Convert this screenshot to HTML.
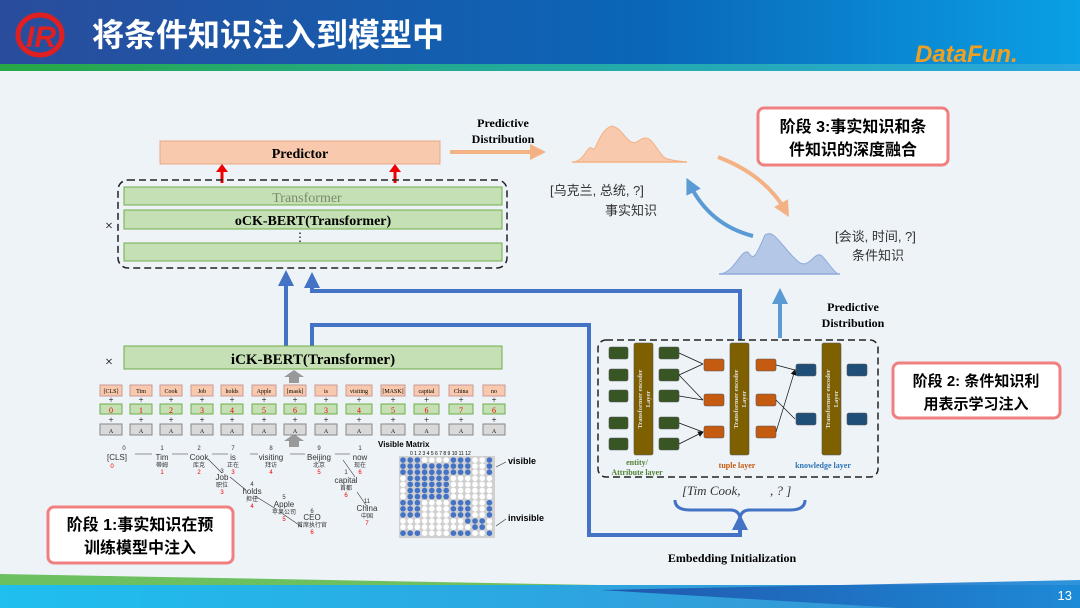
<!DOCTYPE html>
<html><head><meta charset="utf-8"><style>
html,body{margin:0;padding:0}
body{width:1080px;height:608px;overflow:hidden;background:#eef3f8;font-family:"Liberation Serif","Noto Serif CJK SC",serif}
svg{display:block}
.cn{font-family:"Liberation Sans","Noto Sans CJK SC",sans-serif}
</style></head><body>
<svg width="1080" height="608" viewBox="0 0 1080 608" xmlns="http://www.w3.org/2000/svg">
<defs>
<linearGradient id="hd" x1="0" x2="1"><stop offset="0" stop-color="#2a4c9c"/><stop offset="0.6" stop-color="#0a66b8"/><stop offset="1" stop-color="#0aa0e4"/></linearGradient>
<linearGradient id="hs" x1="0" x2="1"><stop offset="0" stop-color="#27a844"/><stop offset="0.5" stop-color="#22aaa0"/><stop offset="1" stop-color="#2aa8e0"/></linearGradient>
<linearGradient id="ft" x1="0" x2="1"><stop offset="0" stop-color="#1fbfef"/><stop offset="1" stop-color="#3a8ed0"/></linearGradient>
<linearGradient id="fb" x1="0" x2="1"><stop offset="0" stop-color="#1f4fa8"/><stop offset="1" stop-color="#1a8ad8"/></linearGradient>
<marker id="bA" markerWidth="4" markerHeight="4" refX="2" refY="2" orient="auto" markerUnits="strokeWidth"><path d="M0,0 L4,2 L0,4z" fill="#4472c4"/></marker>
<marker id="lb" markerWidth="4" markerHeight="4" refX="2" refY="2" orient="auto" markerUnits="strokeWidth"><path d="M0,0 L4,2 L0,4z" fill="#5b9bd5"/></marker>
<marker id="oA" markerWidth="4" markerHeight="4" refX="2" refY="2" orient="auto" markerUnits="strokeWidth"><path d="M0,0 L4,2 L0,4z" fill="#f4b183"/></marker>
<marker id="k" markerWidth="6" markerHeight="6" refX="5" refY="3" orient="auto" markerUnits="userSpaceOnUse"><path d="M0,0 L6,3 L0,6z" fill="#111"/></marker>
</defs>
<!-- header -->
<rect x="0" y="0" width="1080" height="64" fill="url(#hd)"/>
<rect x="0" y="64" width="1080" height="7" fill="url(#hs)"/>
<ellipse cx="40" cy="35" rx="22" ry="20" fill="none" stroke="#e02020" stroke-width="5"/>
<text x="26" y="47" font-size="30" font-style="italic" font-weight="bold" fill="#e02020" font-family="Liberation Sans">IR</text>
<text x="92" y="46" class="cn" font-size="32" font-weight="bold" fill="#fff">将条件知识注入到模型中</text>
<text x="915" y="62" font-size="24" font-weight="bold" font-style="italic" fill="#f0a020" font-family="Liberation Sans">DataFun.</text>
<!-- footer -->
<polygon points="0,574 600,585 0,590" fill="#6cc060"/>
<polygon points="0,585 1080,585 1080,608 0,608" fill="url(#ft)"/>
<polygon points="600,590 1080,580 1080,608 900,608" fill="url(#fb)" opacity="0.9"/>
<text x="1072" y="600" font-size="13" fill="#fff" text-anchor="end" font-family="Liberation Sans">13</text>

<!-- predictor -->
<rect x="160" y="141" width="280" height="23" fill="#f8c9ac" stroke="#e8a888"/>
<text x="300" y="158" font-size="14" font-weight="bold" text-anchor="middle">Predictor</text>
<path d="M222,183 V170" stroke="#e00" stroke-width="3"/><path d="M216,172 L222,164 L228,172z" fill="#e00"/>
<path d="M395,183 V170" stroke="#e00" stroke-width="3"/><path d="M389,172 L395,164 L401,172z" fill="#e00"/>
<rect x="118" y="180" width="389" height="88" rx="10" fill="none" stroke="#222" stroke-width="1.5" stroke-dasharray="7,4"/>
<rect x="124" y="187" width="378" height="18" fill="#c5e0b4" stroke="#70ad47"/>
<text x="307" y="202" font-size="14" fill="#7a8a70" text-anchor="middle">Transformer</text>
<rect x="124" y="210" width="378" height="19" fill="#c5e0b4" stroke="#70ad47"/>
<text x="313" y="225" font-size="14" font-weight="bold" text-anchor="middle">oCK-BERT(Transformer)</text>
<text x="300" y="241" font-size="12" text-anchor="middle">⋮</text>
<rect x="124" y="243" width="378" height="18" fill="#c5e0b4" stroke="#70ad47"/>
<text x="105" y="230" font-size="14">×</text>

<!-- blue connectors -->
<path d="M286,346 V278" stroke="#4472c4" stroke-width="4" fill="none" marker-end="url(#bA)"/>
<path d="M740,340 V291 H312 V280" stroke="#4472c4" stroke-width="4" fill="none" marker-end="url(#bA)"/>
<path d="M312,346 V325 H589 V535 H740 V522" stroke="#4472c4" stroke-width="4" fill="none" marker-end="url(#bA)"/>
<path d="M675,500 Q675,510 690,510 H730 Q740,510 740,520 Q740,510 750,510 H790 Q805,510 805,500" stroke="#4472c4" stroke-width="3" fill="none"/>

<!-- iCK -->
<rect x="124" y="346" width="378" height="23" fill="#c5e0b4" stroke="#70ad47"/>
<text x="313" y="364" font-size="15" font-weight="bold" text-anchor="middle">iCK-BERT(Transformer)</text>
<text x="105" y="366" font-size="14">×</text>
<path d="M289,383 V377 H284 L294,370 L304,377 H299 V383z" fill="#999"/>
<path d="M289,447 V441 H284 L294,434 L304,441 H299 V447z" fill="#999"/>
<g font-size="6" text-anchor="middle">
<g id="tok">
</g>
</g>
<g font-size="6" text-anchor="middle" font-family="Liberation Serif">
<!-- tokens generated manually -->
<g transform="translate(100,0)"><rect x="0" y="385" width="22" height="11" fill="#f8c9ac" stroke="#c99"/><text x="11" y="393">[CLS]</text><text x="11" y="403" font-size="9">+</text><rect x="0" y="404" width="22" height="10" fill="#c5e0b4" stroke="#70ad47"/><text x="11" y="413" font-size="8" fill="#e00">0</text><text x="11" y="423" font-size="9">+</text><rect x="0" y="424" width="22" height="11" fill="#d9d9d9" stroke="#888"/><text x="11" y="433">A</text></g>
<g transform="translate(130,0)"><rect x="0" y="385" width="22" height="11" fill="#f8c9ac" stroke="#c99"/><text x="11" y="393">Tim</text><text x="11" y="403" font-size="9">+</text><rect x="0" y="404" width="22" height="10" fill="#c5e0b4" stroke="#70ad47"/><text x="11" y="413" font-size="8" fill="#e00">1</text><text x="11" y="423" font-size="9">+</text><rect x="0" y="424" width="22" height="11" fill="#d9d9d9" stroke="#888"/><text x="11" y="433">A</text></g>
<g transform="translate(160,0)"><rect x="0" y="385" width="22" height="11" fill="#f8c9ac" stroke="#c99"/><text x="11" y="393">Cook</text><text x="11" y="403" font-size="9">+</text><rect x="0" y="404" width="22" height="10" fill="#c5e0b4" stroke="#70ad47"/><text x="11" y="413" font-size="8" fill="#e00">2</text><text x="11" y="423" font-size="9">+</text><rect x="0" y="424" width="22" height="11" fill="#d9d9d9" stroke="#888"/><text x="11" y="433">A</text></g>
<g transform="translate(191,0)"><rect x="0" y="385" width="22" height="11" fill="#f8c9ac" stroke="#c99"/><text x="11" y="393">Job</text><text x="11" y="403" font-size="9">+</text><rect x="0" y="404" width="22" height="10" fill="#c5e0b4" stroke="#70ad47"/><text x="11" y="413" font-size="8" fill="#e00">3</text><text x="11" y="423" font-size="9">+</text><rect x="0" y="424" width="22" height="11" fill="#d9d9d9" stroke="#888"/><text x="11" y="433">A</text></g>
<g transform="translate(221,0)"><rect x="0" y="385" width="22" height="11" fill="#f8c9ac" stroke="#c99"/><text x="11" y="393">holds</text><text x="11" y="403" font-size="9">+</text><rect x="0" y="404" width="22" height="10" fill="#c5e0b4" stroke="#70ad47"/><text x="11" y="413" font-size="8" fill="#e00">4</text><text x="11" y="423" font-size="9">+</text><rect x="0" y="424" width="22" height="11" fill="#d9d9d9" stroke="#888"/><text x="11" y="433">A</text></g>
<g transform="translate(252,0)"><rect x="0" y="385" width="24" height="11" fill="#f8c9ac" stroke="#c99"/><text x="12" y="393">Apple</text><text x="12" y="403" font-size="9">+</text><rect x="0" y="404" width="24" height="10" fill="#c5e0b4" stroke="#70ad47"/><text x="12" y="413" font-size="8" fill="#e00">5</text><text x="12" y="423" font-size="9">+</text><rect x="0" y="424" width="24" height="11" fill="#d9d9d9" stroke="#888"/><text x="12" y="433">A</text></g>
<g transform="translate(284,0)"><rect x="0" y="385" width="22" height="11" fill="#f8c9ac" stroke="#c99"/><text x="11" y="393">[mask]</text><text x="11" y="403" font-size="9">+</text><rect x="0" y="404" width="22" height="10" fill="#c5e0b4" stroke="#70ad47"/><text x="11" y="413" font-size="8" fill="#e00">6</text><text x="11" y="423" font-size="9">+</text><rect x="0" y="424" width="22" height="11" fill="#d9d9d9" stroke="#888"/><text x="11" y="433">A</text></g>
<g transform="translate(315,0)"><rect x="0" y="385" width="22" height="11" fill="#f8c9ac" stroke="#c99"/><text x="11" y="393">is</text><text x="11" y="403" font-size="9">+</text><rect x="0" y="404" width="22" height="10" fill="#c5e0b4" stroke="#70ad47"/><text x="11" y="413" font-size="8" fill="#e00">3</text><text x="11" y="423" font-size="9">+</text><rect x="0" y="424" width="22" height="11" fill="#d9d9d9" stroke="#888"/><text x="11" y="433">A</text></g>
<g transform="translate(346,0)"><rect x="0" y="385" width="26" height="11" fill="#f8c9ac" stroke="#c99"/><text x="13" y="393">visiting</text><text x="13" y="403" font-size="9">+</text><rect x="0" y="404" width="26" height="10" fill="#c5e0b4" stroke="#70ad47"/><text x="13" y="413" font-size="8" fill="#e00">4</text><text x="13" y="423" font-size="9">+</text><rect x="0" y="424" width="26" height="11" fill="#d9d9d9" stroke="#888"/><text x="13" y="433">A</text></g>
<g transform="translate(381,0)"><rect x="0" y="385" width="24" height="11" fill="#f8c9ac" stroke="#c99"/><text x="12" y="393">[MASK]</text><text x="12" y="403" font-size="9">+</text><rect x="0" y="404" width="24" height="10" fill="#c5e0b4" stroke="#70ad47"/><text x="12" y="413" font-size="8" fill="#e00">5</text><text x="12" y="423" font-size="9">+</text><rect x="0" y="424" width="24" height="11" fill="#d9d9d9" stroke="#888"/><text x="12" y="433">A</text></g>
<g transform="translate(414,0)"><rect x="0" y="385" width="25" height="11" fill="#f8c9ac" stroke="#c99"/><text x="12.5" y="393">capital</text><text x="12.5" y="403" font-size="9">+</text><rect x="0" y="404" width="25" height="10" fill="#c5e0b4" stroke="#70ad47"/><text x="12.5" y="413" font-size="8" fill="#e00">6</text><text x="12.5" y="423" font-size="9">+</text><rect x="0" y="424" width="25" height="11" fill="#d9d9d9" stroke="#888"/><text x="12.5" y="433">A</text></g>
<g transform="translate(449,0)"><rect x="0" y="385" width="24" height="11" fill="#f8c9ac" stroke="#c99"/><text x="12" y="393">China</text><text x="12" y="403" font-size="9">+</text><rect x="0" y="404" width="24" height="10" fill="#c5e0b4" stroke="#70ad47"/><text x="12" y="413" font-size="8" fill="#e00">7</text><text x="12" y="423" font-size="9">+</text><rect x="0" y="424" width="24" height="11" fill="#d9d9d9" stroke="#888"/><text x="12" y="433">A</text></g>
<g transform="translate(483,0)"><rect x="0" y="385" width="22" height="11" fill="#f8c9ac" stroke="#c99"/><text x="11" y="393">no</text><text x="11" y="403" font-size="9">+</text><rect x="0" y="404" width="22" height="10" fill="#c5e0b4" stroke="#70ad47"/><text x="11" y="413" font-size="8" fill="#e00">6</text><text x="11" y="423" font-size="9">+</text><rect x="0" y="424" width="22" height="11" fill="#d9d9d9" stroke="#888"/><text x="11" y="433">A</text></g>
</g>

<!-- tree -->
<g font-size="8" text-anchor="middle" fill="#333" class="cn">
<g stroke="#333" stroke-width="0.6"><path d="M135,454 H152 M172,454 H188 M212,454 H228 M250,454 H258 M290,454 H305 M335,454 H350"/>
<path d="M208,459 L222,473 M230,477 L246,490 M255,496 L276,509 M283,514 L302,527 M343,460 L355,477 M357,492 L368,508"/></g>
<text x="124" y="450" font-size="6">0</text><text x="117" y="460">[CLS]</text><text x="112" y="468" font-size="6" fill="#e00">0</text>
<text x="162" y="450" font-size="6">1</text><text x="162" y="460">Tim</text><text x="162" y="467" font-size="6">蒂姆</text><text x="162" y="474" font-size="6" fill="#e00">1</text>
<text x="199" y="450" font-size="6">2</text><text x="199" y="460">Cook</text><text x="199" y="467" font-size="6">库克</text><text x="199" y="474" font-size="6" fill="#e00">2</text>
<text x="233" y="450" font-size="6">7</text><text x="233" y="460">is</text><text x="233" y="467" font-size="6">正在</text><text x="233" y="474" font-size="6" fill="#e00">3</text>
<text x="271" y="450" font-size="6">8</text><text x="271" y="460">visiting</text><text x="271" y="467" font-size="6">拜访</text><text x="271" y="474" font-size="6" fill="#e00">4</text>
<text x="319" y="450" font-size="6">9</text><text x="319" y="460">Beijing</text><text x="319" y="467" font-size="6">北京</text><text x="319" y="474" font-size="6" fill="#e00">5</text>
<text x="360" y="450" font-size="6">1</text><text x="360" y="460">now</text><text x="360" y="467" font-size="6">现在</text><text x="360" y="474" font-size="6" fill="#e00">6</text>
<text x="222" y="473" font-size="6">3</text><text x="222" y="480">Job</text><text x="222" y="487" font-size="6">职位</text><text x="222" y="494" font-size="6" fill="#e00">3</text>
<text x="252" y="486" font-size="6">4</text><text x="252" y="494">holds</text><text x="252" y="501" font-size="6">担任</text><text x="252" y="508" font-size="6" fill="#e00">4</text>
<text x="284" y="499" font-size="6">5</text><text x="284" y="507">Apple</text><text x="284" y="514" font-size="6">苹果公司</text><text x="284" y="521" font-size="6" fill="#e00">5</text>
<text x="312" y="513" font-size="6">6</text><text x="312" y="520">CEO</text><text x="312" y="527" font-size="6">首席执行官</text><text x="312" y="534" font-size="6" fill="#e00">6</text>
<text x="346" y="474" font-size="6">1</text><text x="346" y="483">capital</text><text x="346" y="490" font-size="6">首都</text><text x="346" y="497" font-size="6" fill="#e00">6</text>
<text x="367" y="503" font-size="6">11</text><text x="367" y="511">China</text><text x="367" y="518" font-size="6">中国</text><text x="367" y="525" font-size="6" fill="#e00">7</text>
</g>

<!-- visible matrix -->
<text x="378" y="447" font-size="8" font-weight="bold" font-family="Liberation Sans">Visible Matrix</text>
<text x="410" y="455" font-size="5" font-family="Liberation Sans">0 1 2 3 4 5 6 7 8 9 10 11 12</text>
<rect x="399" y="456" width="96" height="82" fill="#d0d0d0"/>
<g id="mat"></g>
<text x="508" y="464" font-size="9" font-weight="bold" font-family="Liberation Sans">visible</text>
<text x="508" y="521" font-size="9" font-weight="bold" font-family="Liberation Sans">invisible</text>
<path d="M496,467 L506,462 M496,526 L506,519" stroke="#333" stroke-width="0.6"/>

<!-- stage boxes -->
<rect x="48" y="507" width="185" height="56" rx="6" fill="#fff" stroke="#f08080" stroke-width="3"/>
<text x="140" y="530" class="cn" font-size="16" font-weight="bold" text-anchor="middle">阶段 1:事实知识在预</text>
<text x="140" y="553" class="cn" font-size="16" font-weight="bold" text-anchor="middle">训练模型中注入</text>
<rect x="758" y="108" width="190" height="57" rx="6" fill="#fff" stroke="#f08080" stroke-width="3"/>
<text x="853" y="132" class="cn" font-size="16" font-weight="bold" text-anchor="middle">阶段 3:事实知识和条</text>
<text x="853" y="155" class="cn" font-size="16" font-weight="bold" text-anchor="middle">件知识的深度融合</text>
<rect x="893" y="363" width="167" height="55" rx="6" fill="#fff" stroke="#f08080" stroke-width="3"/>
<text x="976" y="386" class="cn" font-size="15" font-weight="bold" text-anchor="middle">阶段 2: 条件知识利</text>
<text x="976" y="409" class="cn" font-size="15" font-weight="bold" text-anchor="middle">用表示学习注入</text>

<!-- predictive distribution top -->
<text x="503" y="127" font-size="12" font-weight="bold" text-anchor="middle">Predictive</text>
<text x="503" y="143" font-size="12" font-weight="bold" text-anchor="middle">Distribution</text>
<path d="M450,152 H538" stroke="#f4b183" stroke-width="4" marker-end="url(#oA)"/>
<path d="M573,162 C585,161 587,145 592,148 C596,155 598,130 612,126 C624,128 628,150 640,140 C652,132 655,150 665,158 C672,161 680,161 686,162 Z" fill="#f8c9ac" stroke="#f4b183"/>
<line x1="572" y1="162" x2="687" y2="162" stroke="#f4b183" stroke-width="1.5"/>
<text x="550" y="195" class="cn" font-size="13" fill="#333">[乌克兰, 总统, ?]</text>
<text x="605" y="215" class="cn" font-size="13" fill="#333">事实知识</text>
<path d="M718,157 Q765,175 785,210" stroke="#f4b183" stroke-width="4" fill="none" marker-end="url(#oA)"/>
<path d="M753,236 Q710,225 690,185" stroke="#5b9bd5" stroke-width="4" fill="none" marker-end="url(#lb)"/>
<path d="M720,274 C735,272 740,250 748,252 C754,262 756,255 765,235 C775,228 783,250 800,263 C810,268 815,250 822,256 C828,262 832,270 838,274 Z" fill="#b4c7e7" stroke="#8faadc"/>
<line x1="719" y1="274" x2="840" y2="274" stroke="#8faadc" stroke-width="1.5"/>
<text x="835" y="241" class="cn" font-size="13" fill="#333">[会谈, 时间, ?]</text>
<text x="852" y="260" class="cn" font-size="13" fill="#333">条件知识</text>
<path d="M780,338 V296" stroke="#5b9bd5" stroke-width="4" marker-end="url(#lb)"/>
<text x="853" y="311" font-size="12" font-weight="bold" text-anchor="middle">Predictive</text>
<text x="853" y="327" font-size="12" font-weight="bold" text-anchor="middle">Distribution</text>

<!-- right dashed -->
<rect x="598" y="340" width="280" height="137" rx="8" fill="none" stroke="#222" stroke-width="1.5" stroke-dasharray="7,4"/>
<g stroke="#555" stroke-width="0.6">
<rect x="609" y="347" width="19" height="12" rx="2" fill="#375623"/><rect x="609" y="369" width="19" height="12" rx="2" fill="#375623"/><rect x="609" y="390" width="19" height="12" rx="2" fill="#375623"/><rect x="609" y="417" width="19" height="12" rx="2" fill="#375623"/><rect x="609" y="438" width="19" height="12" rx="2" fill="#375623"/>
<rect x="659" y="347" width="20" height="12" rx="2" fill="#375623"/><rect x="659" y="369" width="20" height="12" rx="2" fill="#375623"/><rect x="659" y="390" width="20" height="12" rx="2" fill="#375623"/><rect x="659" y="417" width="20" height="12" rx="2" fill="#375623"/><rect x="659" y="438" width="20" height="12" rx="2" fill="#375623"/>
<rect x="634" y="343" width="19" height="112" rx="2" fill="#7f6000"/>
<rect x="704" y="359" width="20" height="12" rx="2" fill="#c55a11"/><rect x="704" y="394" width="20" height="12" rx="2" fill="#c55a11"/><rect x="704" y="426" width="20" height="12" rx="2" fill="#c55a11"/>
<rect x="756" y="359" width="20" height="12" rx="2" fill="#c55a11"/><rect x="756" y="394" width="20" height="12" rx="2" fill="#c55a11"/><rect x="756" y="426" width="20" height="12" rx="2" fill="#c55a11"/>
<rect x="730" y="343" width="19" height="112" rx="2" fill="#7f6000"/>
<rect x="796" y="364" width="20" height="12" rx="2" fill="#1f4e79"/><rect x="796" y="413" width="20" height="12" rx="2" fill="#1f4e79"/>
<rect x="847" y="364" width="20" height="12" rx="2" fill="#1f4e79"/><rect x="847" y="413" width="20" height="12" rx="2" fill="#1f4e79"/>
<rect x="822" y="343" width="19" height="112" rx="2" fill="#7f6000"/>
</g>
<g stroke="#111" stroke-width="0.7" fill="none">
<path d="M679,353 L703,364 M679,375 L703,364 M679,375 L703,400 M679,396 L703,400 M679,423 L703,432 M679,444 L703,432" marker-end="url(#k)"/>
<path d="M776,365 L795,370 M776,400 L795,419 M776,432 L795,370" marker-end="url(#k)"/>
</g>
<g font-size="6.5" fill="#ddd" font-weight="bold" text-anchor="middle">
<text transform="translate(642,399) rotate(-90)">Transformer encoder</text><text transform="translate(650,399) rotate(-90)">Layer</text>
<text transform="translate(738,399) rotate(-90)">Transformer encoder</text><text transform="translate(746,399) rotate(-90)">Layer</text>
<text transform="translate(830,399) rotate(-90)">Transformer encoder</text><text transform="translate(838,399) rotate(-90)">Layer</text>
</g>
<text x="637" y="465" font-size="8" font-weight="bold" fill="#548235" text-anchor="middle">entity/</text>
<text x="637" y="475" font-size="8" font-weight="bold" fill="#548235" text-anchor="middle">Attribute layer</text>
<text x="737" y="468" font-size="8" font-weight="bold" fill="#c55a11" text-anchor="middle">tuple layer</text>
<text x="823" y="468" font-size="8" font-weight="bold" fill="#2e75b6" text-anchor="middle">knowledge layer</text>
<text x="682" y="495" font-size="13" font-style="italic" fill="#333">[Tim Cook,</text>
<text x="770" y="495" font-size="13" font-style="italic" fill="#333">, ? ]</text>
<text x="732" y="562" font-size="12" font-weight="bold" text-anchor="middle">Embedding Initialization</text>
</svg>
<script>
var rows=["1110000111001","1111111111001","1111111111001","0111111000000","0111111000000","0111111000000","0111111000000","1110000111001","1110000111001","1110000111001","0000000001110","0000000000110","1110000111001"];
var g=document.getElementById("mat"),s="";
for(var r=0;r<13;r++)for(var c=0;c<13;c++){s+='<circle cx="'+(403+c*7.2)+'" cy="'+(460+r*6.1)+'" r="2.8" fill="'+(rows[r][c]=="1"?"#4472c4":"#fff")+'"/>';}
g.innerHTML=s;
</script>
</body></html>
